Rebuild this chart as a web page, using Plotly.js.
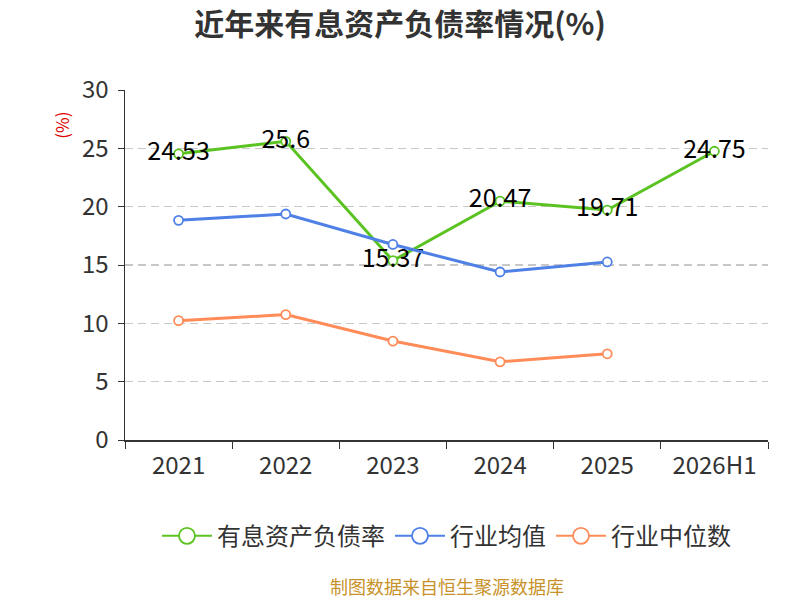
<!DOCTYPE html>
<html><head><meta charset="utf-8">
<script src="https://cdn.plot.ly/plotly-3.0.1.min.js"></script>
<style>body{margin:0;background:#fff}#c{width:800px;height:600px}</style>
</head><body><div id="c"></div>
<script>
var categories = ['2021','2022','2023','2024','2025','2026H1'];
var debtRatio = [24.53, 25.6, 15.37, 20.47, 19.71, 24.75];
var industryAvg = [18.83, 19.37, 16.76, 14.4, 15.26, null];
var industryMedian = [10.23, 10.75, 8.48, 6.7, 7.39, null];
var yTicks = [0, 5, 10, 15, 20, 25, 30];
var seriesNames = ['有息资产负债率', '行业均值', '行业中位数'];
var seriesColors = ['#5bc321', '#4e80e6', '#ff8c58'];

var font = "'Noto Sans CJK SC', 'Noto Sans', sans-serif";
function mk(color, s){return {size:s, color:'#fff', line:{color:color, width:1.8}};}
var seriesData = [debtRatio, industryAvg, industryMedian];
var traces = seriesData.map(function(d, i){
  var t = {x:categories, y:d, name:seriesNames[i], type:'scatter', mode:'lines+markers',
    line:{color:seriesColors[i], width:3}, marker:mk(seriesColors[i], 9), showlegend:false, cliponaxis:false};
  if (i === 0) {
    t.mode = 'lines+markers+text';
    t.text = d.map(String);
    t.textposition = 'middle center';
    t.textfont = {size:25, color:'#000', family:font};
  }
  return t;
});
// legend entries (larger symbols)
seriesNames.forEach(function(n, i){
  traces.push({x:[null], y:[null], name:n, type:'scatter', mode:'lines+markers',
    line:{color:seriesColors[i], width:2}, marker:mk(seriesColors[i], 19), showlegend:true});
});
var layout = {
  width:800, height:600, paper_bgcolor:'#fff', plot_bgcolor:'#fff',
  margin:{l:125, r:32, t:90, b:160},
  font:{family:font, color:'#333'},
  title:{text:'<b>近年来有息资产负债率情况(%)</b>', x:0.5, xanchor:'center', y:0.96, yanchor:'middle',
         font:{size:30, color:'#333', family:font}},
  xaxis:{type:'category', range:[-0.5, 5.5], tickson:'boundaries', showline:true, linecolor:'#333', linewidth:1.5,
         ticks:'outside', ticklen:7, tickcolor:'#333', tickfont:{size:24, color:'#333'}, ticklabelstandoff:4,
         showgrid:false, zeroline:false, fixedrange:true},
  yaxis:{range:[0,30], tickvals:yTicks, showline:true, linecolor:'#333', linewidth:1.5,
         ticks:'outside', ticklen:6, tickcolor:'#333', tickfont:{size:24, color:'#333'}, ticklabelstandoff:4,
         showgrid:true, gridcolor:'#c8c8c8', griddash:'8px,5px', gridwidth:1.2, zeroline:false},
  showlegend:true,
  legend:{orientation:'h', x:0.5, xanchor:'center', y:-0.275, yanchor:'middle',
          font:{size:24, color:'#333', family:font}, itemwidth:50},
  annotations:[
    {text:'(%)', xref:'paper', yref:'paper', x:-0.1, y:0.9, textangle:-90, showarrow:false,
     font:{size:17, color:'#e00000', family:font}, xanchor:'center', yanchor:'middle'},
    {text:'制图数据来自恒生聚源数据库', xref:'paper', yref:'paper', x:0.5, y:-0.418, showarrow:false,
     font:{size:18, color:'#c8922a', family:font}, xanchor:'center', yanchor:'middle'}
  ]
};
Plotly.newPlot('c', traces, layout, {displayModeBar:false, staticPlot:true});
</script></body></html>
